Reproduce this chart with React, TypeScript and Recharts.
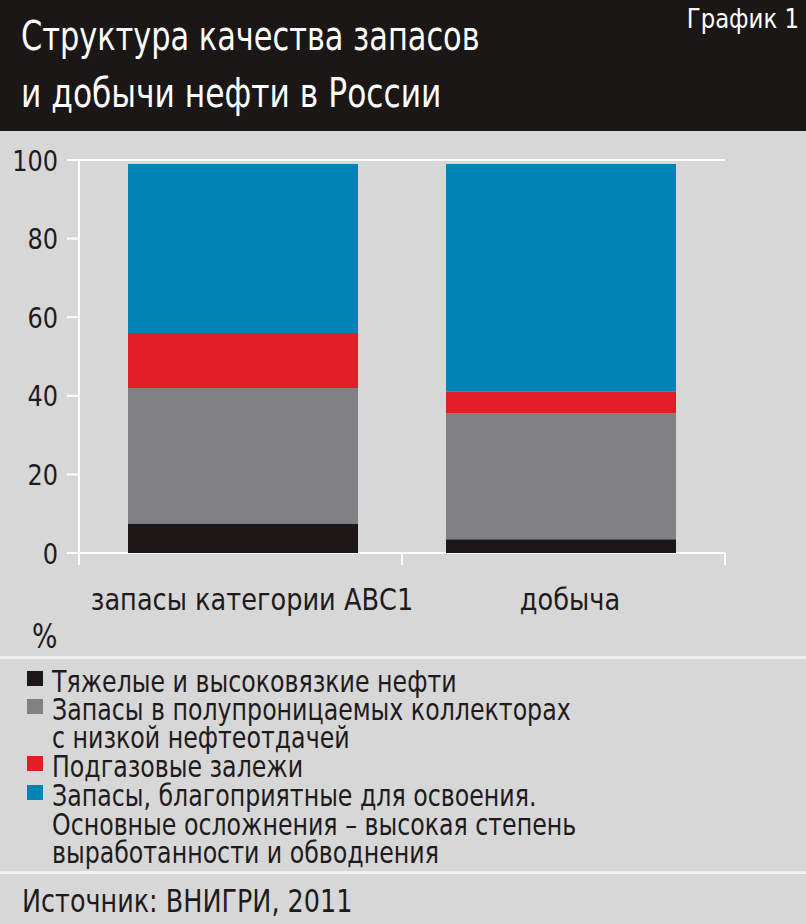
import React from 'react';
import { BarChart, Bar, XAxis, YAxis, CartesianGrid } from 'recharts';

const FONT = '"DejaVu Sans Condensed", "DejaVu Sans", sans-serif';
const INK = '#1f1b1c';
const PAD = 5;

const categories = ['запасы категории АВС1', 'добыча'];
const heavyOil = [7.5, 3.5];
const lowYield = [34.5, 32];
const gasCap = [14, 5.5];
const favorable = [43, 58];
const yTicks = [0, 20, 40, 60, 80, 100];

const series = [
  { key: 'heavy', values: heavyOil, color: '#1d1718', label: ['Тяжелые и высоковязкие нефти'] },
  {
    key: 'low',
    values: lowYield,
    color: '#818183',
    label: ['Запасы в полупроницаемых коллекторах', 'с низкой нефтеотдачей'],
  },
  { key: 'gas', values: gasCap, color: '#e31d25', label: ['Подгазовые залежи'] },
  {
    key: 'fav',
    values: favorable,
    color: '#0285b6',
    label: [
      'Запасы, благоприятные для освоения.',
      'Основные осложнения – высокая степень',
      'выработанности и обводнения',
    ],
  },
];

const data = categories.map((name, i) => {
  const row: Record<string, string | number> = { name };
  series.forEach((s) => {
    row[s.key] = s.values[i];
  });
  return row;
});

// condensed text: the reference face is much narrower than DejaVu
const Narrow = ({ x, y, size, sx, anchor = 'start', fill = INK, children }: any) => (
  <text
    transform={`translate(${x},${y}) scale(${sx},1)`}
    textAnchor={anchor}
    fontSize={size}
    fontFamily={FONT}
    fill={fill}
  >
    {children}
  </text>
);

const CategoryTick = (props: any) => {
  const { x, y, payload, index, visibleTicksCount } = props;
  const off = payload.offset || 0;
  const first = index === 0;
  const last = index === visibleTicksCount - 1;
  const left = first ? x - off - PAD : x - off;
  return (
    <g>
      <line x1={left} x2={left} y1={y} y2={y + 12} stroke="#ffffff" strokeWidth={2} />
      {last && (
        <line x1={x + off + PAD} x2={x + off + PAD} y1={y} y2={y + 12} stroke="#ffffff" strokeWidth={2} />
      )}
      <Narrow x={x + 9} y={y + 57} size={31} sx={0.92} anchor="middle">
        {payload.value}
      </Narrow>
    </g>
  );
};

const ValueTick = (props: any) => {
  const { x, y, payload } = props;
  return (
    <Narrow x={x} y={y + 10.5} size={29} sx={0.92} anchor="end">
      {payload.value}
    </Narrow>
  );
};

const legendRows: { text: string; color?: string }[] = [];
series.forEach((s) => s.label.forEach((t, i) => legendRows.push({ text: t, color: i === 0 ? s.color : undefined })));
const legendBaselines = [692, 720, 748, 777, 806, 835, 863];

export default function App() {
  return (
    <div
      style={{
        position: 'absolute',
        left: 0,
        top: 0,
        width: 806,
        height: 924,
        background: '#d7d7d7',
        overflow: 'hidden',
      }}
    >
      <div style={{ position: 'absolute', left: 0, top: 0, width: 806, height: 131, background: '#1b1717' }} />
      <div style={{ position: 'absolute', left: 0, top: 656, width: 806, height: 3, background: '#f0f0f0' }} />
      <div style={{ position: 'absolute', left: 0, top: 871, width: 806, height: 3, background: '#f0f0f0' }} />

      {/* chart */}
      <div style={{ position: 'absolute', left: 0, top: 131 }}>
        <BarChart width={806} height={526} data={data} margin={{ top: 29, right: 81, bottom: 44, left: 0 }} barSize={230}>
          <CartesianGrid horizontal vertical={false} stroke="#ffffff" strokeWidth={2} />
          <XAxis
            dataKey="name"
            axisLine={false}
            tickLine={false}
            tickSize={0}
            tickMargin={0}
            height={60}
            interval={0}
            padding={{ left: PAD, right: PAD }}
            tick={<CategoryTick />}
          />
          <YAxis
            yAxisId="left"
            width={79}
            domain={[0, 100]}
            ticks={yTicks}
            axisLine={{ stroke: '#ffffff', strokeWidth: 2 }}
            tickLine={{ stroke: '#ffffff', strokeWidth: 2 }}
            tickSize={12}
            tickMargin={9}
            tick={<ValueTick />}
          />
          <YAxis
            yAxisId="right"
            orientation="right"
            width={0}
            domain={[0, 100]}
            tick={false}
            tickLine={false}
            axisLine={{ stroke: '#ffffff', strokeWidth: 2 }}
          />
          {series.map((s) => (
            <Bar key={s.key} yAxisId="left" dataKey={s.key} stackId="a" fill={s.color} isAnimationActive={false} />
          ))}
        </BarChart>
      </div>

      {/* titles, unit, legend, source */}
      <svg width={806} height={924} style={{ position: 'absolute', left: 0, top: 0, pointerEvents: 'none' }}>
        <Narrow x={21} y={50} size={40} sx={0.845} fill="#ffffff">
          Структура качества запасов
        </Narrow>
        <Narrow x={21} y={107} size={40} sx={0.87} fill="#ffffff">
          и добычи нефти в России
        </Narrow>
        <Narrow x={799} y={28} size={27} sx={0.94} anchor="end" fill="#ffffff">
          График 1
        </Narrow>

        <Narrow x={32} y={648} size={33} sx={0.9}>
          %
        </Narrow>

        {legendRows.map((r, i) => (
          <g key={i}>
            {r.color && <rect x={27} y={legendBaselines[i] - 21} width={16} height={15} fill={r.color} />}
            <Narrow x={52} y={legendBaselines[i]} size={31} sx={0.85}>
              {r.text}
            </Narrow>
          </g>
        ))}

        <Narrow x={22} y={912} size={32} sx={0.885}>
          Источник: ВНИГРИ, 2011
        </Narrow>
      </svg>
    </div>
  );
}
